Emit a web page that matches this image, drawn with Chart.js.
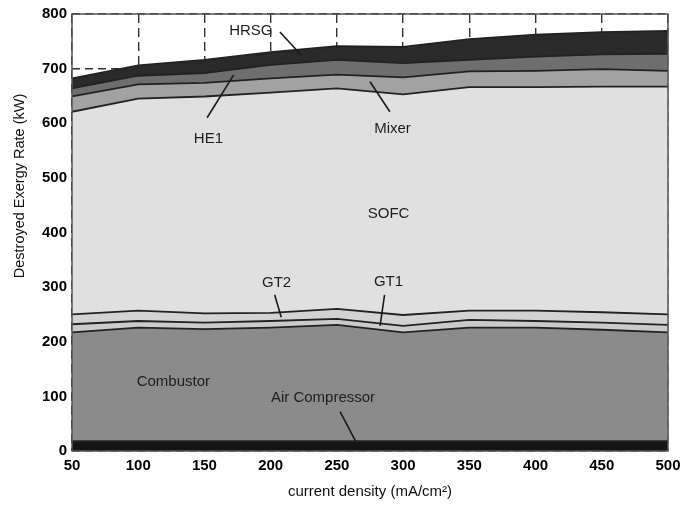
<!DOCTYPE html>
<html>
<head>
<meta charset="utf-8">
<title>Destroyed exergy rate</title>
<script src="https://cdn.jsdelivr.net/npm/chart.js@4.4.0/dist/chart.umd.min.js"></script>
<style>
  html, body { margin: 0; padding: 0; background: #fff; }
  #wrap { width: 683px; height: 505px; }
</style>
</head>
<body>
<div id="wrap"><canvas id="exergyChart" width="683" height="505"></canvas></div>
<script>
// current density (mA/cm2)
const densities = [50, 100, 150, 200, 250, 300, 350, 400, 450, 500];

// destroyed exergy per component (kW), stacked from the bottom up
const airCompressor = [18, 18, 18, 18, 18, 18, 18, 18, 18, 18];
const combustor = [199, 208, 205, 208, 213, 199, 208, 208, 204, 199];
const gt1 = [15, 12, 12, 12, 11, 12, 14, 12, 13, 14];
const gt2 = [18, 19, 17, 15, 18, 20, 17, 19, 19, 19];
const sofc = [371, 388, 397, 403, 404, 404, 409, 409, 413, 417];
const mixer = [28, 26, 25, 26, 25, 31, 29, 30, 32, 29];
const he1 = [15, 16, 18, 25, 27, 26, 21, 26, 27, 31];
const hrsg = [18, 19, 24, 23, 25, 30, 38, 40, 41, 42];

// labels written on the plot, with their leader lines (data coordinates)
const labels = [
    { text: 'HRSG', x: 185, y: 769, line: [207, 767, 223, 725] },
    { text: 'HE1', x: 153, y: 572, line: [152, 610, 172, 688] },
    { text: 'Mixer', x: 292, y: 589, line: [290, 621, 275, 676] },
    { text: 'SOFC', x: 289, y: 434 },
    { text: 'GT2', x: 204.5, y: 307, line: [203, 286, 208, 245] },
    { text: 'GT1', x: 289, y: 310, line: [286, 286, 282.6, 229] },
    { text: 'Combustor', x: 126.5, y: 127 },
    { text: 'Air Compressor', x: 239.5, y: 96.5, line: [252.4, 72, 265, 14] }
];

const fontFamily = '"Liberation Sans", Arial, sans-serif';

// one stacked band
function band(name, values, color) {
    return {
        label: name,
        data: densities.map((d, i) => ({ x: d, y: values[i] })),
        backgroundColor: color,
        borderColor: '#222',
        borderWidth: 1.8,
        pointRadius: 0,
        tension: 0,
        fill: name === 'Air Compressor' ? 'origin' : '-1'
    };
}

// frame round the plot, labels and the y axis title
const overlay = {
    id: 'overlay',
    afterDatasetsDraw(chart) {
        const ctx = chart.ctx;
        const a = chart.chartArea;
        const xs = chart.scales.x;
        const ys = chart.scales.y;
        ctx.save();
        ctx.strokeStyle = '#555';
        ctx.lineWidth = 1.5;
        ctx.strokeRect(a.left, a.top, a.right - a.left, a.bottom - a.top);

        ctx.fillStyle = '#1e1e1e';
        ctx.strokeStyle = '#1a1a1a';
        ctx.lineWidth = 1.6;
        ctx.font = '15px ' + fontFamily;
        ctx.textAlign = 'center';
        ctx.textBaseline = 'middle';
        labels.forEach(l => {
            ctx.fillText(l.text, xs.getPixelForValue(l.x), ys.getPixelForValue(l.y));
            if (l.line) {
                ctx.beginPath();
                ctx.moveTo(xs.getPixelForValue(l.line[0]), ys.getPixelForValue(l.line[1]));
                ctx.lineTo(xs.getPixelForValue(l.line[2]), ys.getPixelForValue(l.line[3]));
                ctx.stroke();
            }
        });

        ctx.translate(20, 186);
        ctx.rotate(-Math.PI / 2);
        ctx.fillStyle = '#111';
        ctx.font = '14.5px ' + fontFamily;
        ctx.fillText('Destroyed Exergy Rate (kW)', 0, 0);
        ctx.restore();
    }
};

function createChart() {
    const canvas = document.getElementById('exergyChart');
    new Chart(canvas, {
        type: 'line',
        data: {
            datasets: [
                band('Air Compressor', airCompressor, '#141414'),
                band('Combustor', combustor, '#8b8b8b'),
                band('GT1', gt1, '#cbcbcb'),
                band('GT2', gt2, '#d3d3d3'),
                band('SOFC', sofc, '#e0e0e0'),
                band('Mixer', mixer, '#a2a2a2'),
                band('HE1', he1, '#6e6e6e'),
                band('HRSG', hrsg, '#2a2a2a')
            ]
        },
        options: {
            responsive: false,
            animation: false,
            layout: { padding: { top: 14, right: 15, left: 0, bottom: 0 } },
            plugins: {
                legend: { display: false },
                tooltip: { enabled: false }
            },
            scales: {
                x: {
                    type: 'linear',
                    min: 50,
                    max: 500,
                    ticks: { stepSize: 50, padding: 6, color: '#000', font: { family: fontFamily, size: 15, weight: 'bold' } },
                    grid: { color: '#333', lineWidth: 1.4, drawTicks: false },
                    border: { display: false, dash: [9, 5] },
                    title: { display: true, text: 'current density (mA/cm\u00b2)', color: '#111', font: { family: fontFamily, size: 15 }, padding: { top: 7 } },
                    afterFit: s => {
                        s.height = 54;
                        s.paddingLeft = 0;
                        s.paddingRight = 0;
                    }
                },
                y: {
                    stacked: true,
                    min: 0,
                    max: 800,
                    ticks: { stepSize: 100, padding: 5, color: '#000', font: { family: fontFamily, size: 15, weight: 'bold' } },
                    grid: { color: '#333', lineWidth: 1.4, drawTicks: false },
                    border: { display: false, dash: [8, 5] },
                    afterFit: s => { s.width = 72; }
                }
            }
        },
        plugins: [overlay]
    });
}

document.addEventListener('DOMContentLoaded', createChart);
</script>
</body>
</html>
